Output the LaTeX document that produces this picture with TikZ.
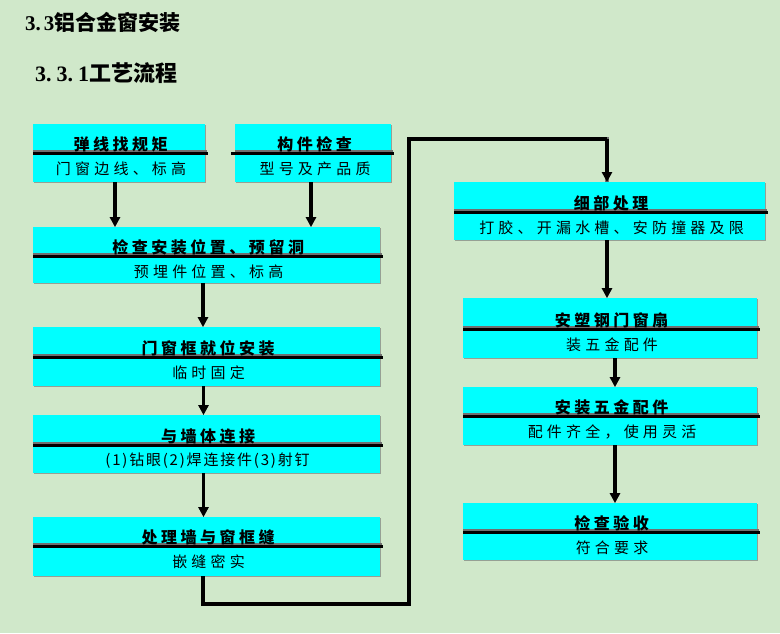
\documentclass[tikz,border=0pt]{standalone}
\usepackage{fontspec}
\newfontfamily\cjk{Noto Sans CJK SC}
\newfontfamily\serifnum{Liberation Serif}
\usetikzlibrary{arrows.meta,shadows}
\definecolor{bg}{HTML}{D0E8CA}
\definecolor{boxc}{HTML}{00FFFF}
\definecolor{shd}{HTML}{707070}
\newcommand\flowbox[9][sub]{% [substyle] name, xl, xr, yt, yb, ydiv, title, sub
  \node[box, minimum width={(#4-#3)*1pt}, minimum height={(#6-#5)*1pt}] (#2) at ({(#3+#4)/2},{(#5+#6)/2}) {};
  \draw[divshadow] (#3,#7-2) -- (#4+2,#7-2);
  \draw[divline] (#3,#7+0.6) -- (#4+3,#7+0.6);
  \node[ttl] (#2-t) at ({(#3+#4)/2},#7-8.5) {#8};
  \node[#1] (#2-s) at ({(#3+#4)/2},#7+15.5) {#9};
}
\begin{document}
\begin{tikzpicture}[x=1pt,y=-1pt,
  box/.style={fill=boxc, draw=none, inner sep=0, outer sep=0,
    drop shadow={shadow xshift=1.2pt, shadow yshift=-1.2pt, fill=shd, opacity=0.6}},
  divline/.style={line width=3pt, black},
  divshadow/.style={line width=1.4pt, shd},
  ttl/.style={font=\cjk\bfseries\fontsize{16}{16}\selectfont\addfontfeature{LetterSpace=22}, inner sep=0, xshift=1.7pt},
  sub/.style={font=\cjk\fontsize{15}{15}\selectfont\addfontfeature{LetterSpace=28}, inner sep=0, xshift=2.1pt},
  subn/.style={font=\cjk\fontsize{15}{15}\selectfont\addfontfeature{LetterSpace=12}, inner sep=0, xshift=1pt},
  arr/.style={line width=3.2pt, black, -{Triangle[width=10pt,length=10pt]}},
  arrs/.style={line width=3.2pt, shd, -{Triangle[width=10pt,length=10pt]}},
  conn/.style={line width=3.2pt, black},
  conns/.style={line width=3.2pt, shd}
]
\fill[bg] (0,0) rectangle (780,633);
\useasboundingbox (0,0) rectangle (780,633);

% headings
\node[anchor=west, inner sep=0, font=\fontsize{21}{21}\selectfont] (h1) at (25,22)
  {\serifnum\bfseries 3.\hspace{3pt}3\cjk\bfseries 铝合金窗安装};
\node[anchor=west, inner sep=0, font=\fontsize{22}{22}\selectfont] (h2) at (35,73)
  {\serifnum\bfseries 3.\hspace{5pt}3.\hspace{5pt}1\cjk\bfseries 工艺流程};

% boxes
\flowbox{b1}{33}{205}{124}{182}{153}{弹线找规矩}{门窗边线、标高}
\flowbox{b2}{235}{391}{124}{182}{153}{构件检查}{型号及产品质}
\draw[divline] (231,153.6) -- (235,153.6);
\flowbox{b3}{33}{380}{227}{283}{256}{检查安装位置、预留洞}{预埋件位置、标高}
\flowbox{b4}{33}{380}{327}{386}{357}{门窗框就位安装}{临时固定}
\flowbox[subn]{b5}{33}{380}{415}{473}{445}{与墙体连接}{(1)钻眼(2)焊连接件(3)射钉}
\flowbox{b6}{33}{380}{517}{576}{546}{处理墙与窗框缝}{嵌缝密实}
\flowbox{b7}{454}{765}{182}{240}{212}{细部处理}{打胶、开漏水槽、安防撞器及限}
\flowbox{b8}{463}{757}{298}{358}{329}{安塑钢门窗扇}{装五金配件}
\flowbox{b9}{463}{757}{387}{445}{416}{安装五金配件}{配件齐全，使用灵活}
\flowbox{b10}{463}{757}{503}{560}{532}{检查验收}{符合要求}

% arrows (shadow copies first)
\begin{scope}[shift={(-1.4,-1.4)}]
  \draw[arrs] ([xshift=-4pt]b1.south) -- ([xshift=-4pt]b1.south |- b3.north);
  \draw[arrs] ([xshift=-2pt]b2.south) -- ([xshift=-2pt]b2.south |- b3.north);
  \draw[arrs] ([xshift=-3.5pt]b3.south) -- ([xshift=-3.5pt]b3.south |- b4.north);
  \draw[arrs] ([xshift=-3pt]b4.south) -- ([xshift=-3pt]b4.south |- b5.north);
  \draw[arrs] ([xshift=-3pt]b5.south) -- ([xshift=-3pt]b5.south |- b6.north);
  \draw[arrs] ([xshift=-2.5pt]b7.south) -- ([xshift=-2.5pt]b7.south |- b8.north);
  \draw[arrs] ([xshift=5pt]b8.south) -- ([xshift=5pt]b8.south |- b9.north);
  \draw[arrs] ([xshift=5pt]b9.south) -- ([xshift=5pt]b9.south |- b10.north);
\end{scope}
\draw[arr] ([xshift=-4pt]b1.south) -- ([xshift=-4pt]b1.south |- b3.north);
\draw[arr] ([xshift=-2pt]b2.south) -- ([xshift=-2pt]b2.south |- b3.north);
\draw[arr] ([xshift=-3.5pt]b3.south) -- ([xshift=-3.5pt]b3.south |- b4.north);
\draw[arr] ([xshift=-3pt]b4.south) -- ([xshift=-3pt]b4.south |- b5.north);
\draw[arr] ([xshift=-3pt]b5.south) -- ([xshift=-3pt]b5.south |- b6.north);
\draw[arr] ([xshift=-2.5pt]b7.south) -- ([xshift=-2.5pt]b7.south |- b8.north);
\draw[arr] ([xshift=5pt]b8.south) -- ([xshift=5pt]b8.south |- b9.north);
\draw[arr] ([xshift=5pt]b9.south) -- ([xshift=5pt]b9.south |- b10.north);

% long connector b6 -> b7
\coordinate (c1) at (409,604);
\coordinate (c2) at (409,139);
\begin{scope}[shift={(-1.4,-1.4)}]
  \draw[conns] ([xshift=-3.5pt]b6.south) |- (c1) -- (c2) -| ([xshift=-2.5pt]b7.north);
\end{scope}
\draw[conn] ([xshift=-3.5pt]b6.south) |- (c1) -- (c2) -- ([xshift=-2.5pt]b7.north |- c2);
\draw[arr] ([xshift=-2.5pt]b7.north |- c2) -- ([xshift=-2.5pt]b7.north);
\end{tikzpicture}
\end{document}
